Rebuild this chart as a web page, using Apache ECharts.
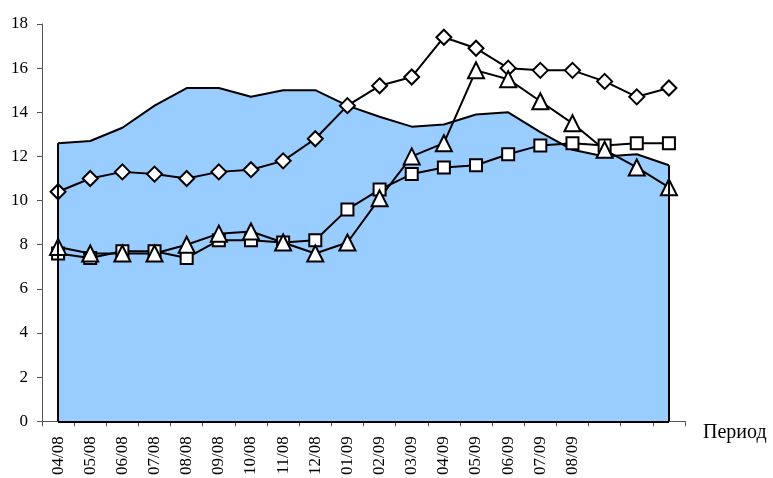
<!DOCTYPE html>
<html>
<head>
<meta charset="utf-8">
<script src="https://cdn.jsdelivr.net/npm/echarts@6/dist/echarts.min.js"></script>
<style>
  html, body { margin: 0; padding: 0; background: #fff; }
  #chart { width: 773px; height: 478px; }
</style>
</head>
<body>
<div id="chart"></div>
<script>
// Monthly periods; the last three slots carry no label
const periods = ['04/08','05/08','06/08','07/08','08/08','09/08','10/08','11/08','12/08',
                 '01/09','02/09','03/09','04/09','05/09','06/09','07/09','08/09','','',''];

// Shaded background series
const areaValues = [12.6, 12.7, 13.3, 14.3, 15.1, 15.1, 14.7, 15.0, 15.0, 14.3,
                    13.8, 13.35, 13.45, 13.9, 14.0, 13.1, 12.3, 12.0, 12.1, 11.6];
// Diamond markers
const diamondValues = [10.4, 11.0, 11.3, 11.2, 11.0, 11.3, 11.4, 11.8, 12.8, 14.3,
                       15.2, 15.6, 17.4, 16.9, 16.0, 15.9, 15.9, 15.4, 14.7, 15.1];
// Square markers
const squareValues = [7.6, 7.4, 7.7, 7.7, 7.4, 8.2, 8.2, 8.1, 8.2, 9.6,
                      10.5, 11.2, 11.5, 11.6, 12.1, 12.5, 12.6, 12.5, 12.6, 12.6];
// Triangle markers
const triangleValues = [7.9, 7.6, 7.6, 7.6, 8.0, 8.5, 8.6, 8.1, 7.6, 8.1,
                        10.1, 12.0, 12.6, 15.9, 15.5, 14.5, 13.5, 12.3, 11.5, 10.6];

const yTicks = { min: 0, max: 18, interval: 2 };

const font = 'Liberation Serif, Times New Roman, serif';
const lastIdx = periods.length - 1;

// Closing edges of the shaded region (left side, bottom, right side)
const areaEdges = [
  [{ coord: [0, 0] }, { coord: [0, areaValues[0]] }],
  [{ coord: [0, 0] }, { coord: [lastIdx, 0] }],
  [{ coord: [lastIdx, 0] }, { coord: [lastIdx, areaValues[lastIdx]] }]
];

function markerSeries(values, symbol, size) {
  return {
    type: 'line',
    data: values,
    symbol: symbol,
    symbolSize: size,
    showAllSymbol: true,
    lineStyle: { color: '#000', width: 2 },
    itemStyle: { color: '#fff', borderColor: '#000', borderWidth: 2 },
    emphasis: { disabled: true },
    animation: false
  };
}

const chart = echarts.init(document.getElementById('chart'));
chart.setOption({
  backgroundColor: '#fff',
  animation: false,
  grid: { left: 42, right: 88, top: 24, bottom: 56, containLabel: false },
  xAxis: {
    type: 'category',
    data: periods,
    boundaryGap: true,
    name: 'Период',
    nameLocation: 'end',
    nameGap: 18,
    nameTextStyle: { fontFamily: font, fontSize: 20, color: '#000', verticalAlign: 'top', padding: [1, 0, 0, 0] },
    axisLine: { lineStyle: { color: '#555', width: 1 } },
    axisTick: { show: true, alignWithLabel: false, length: 5, lineStyle: { color: '#555' } },
    axisLabel: { rotate: 90, interval: 0, fontFamily: font, fontSize: 17, color: '#000', margin: 15 },
    splitLine: { show: false }
  },
  yAxis: {
    type: 'value',
    min: yTicks.min,
    max: yTicks.max,
    interval: yTicks.interval,
    axisLine: { show: true, lineStyle: { color: '#555', width: 1 } },
    axisTick: { show: true, length: 5, lineStyle: { color: '#555' } },
    axisLabel: { fontFamily: font, fontSize: 17, color: '#000', margin: 14 },
    splitLine: { show: false }
  },
  series: [
    {
      type: 'line',
      data: areaValues,
      symbol: 'none',
      lineStyle: { color: '#000', width: 2 },
      areaStyle: { color: '#99CCFF', opacity: 1 },
      markLine: {
        symbol: ['none', 'none'],
        silent: true,
        label: { show: false },
        lineStyle: { color: '#000', width: 2, type: 'solid' },
        data: areaEdges
      },
      emphasis: { disabled: true },
      animation: false
    },
    markerSeries(diamondValues, 'diamond', 15),
    markerSeries(squareValues, 'rect', 12),
    markerSeries(triangleValues, 'triangle', 16)
  ]
});
</script>
</body>
</html>
